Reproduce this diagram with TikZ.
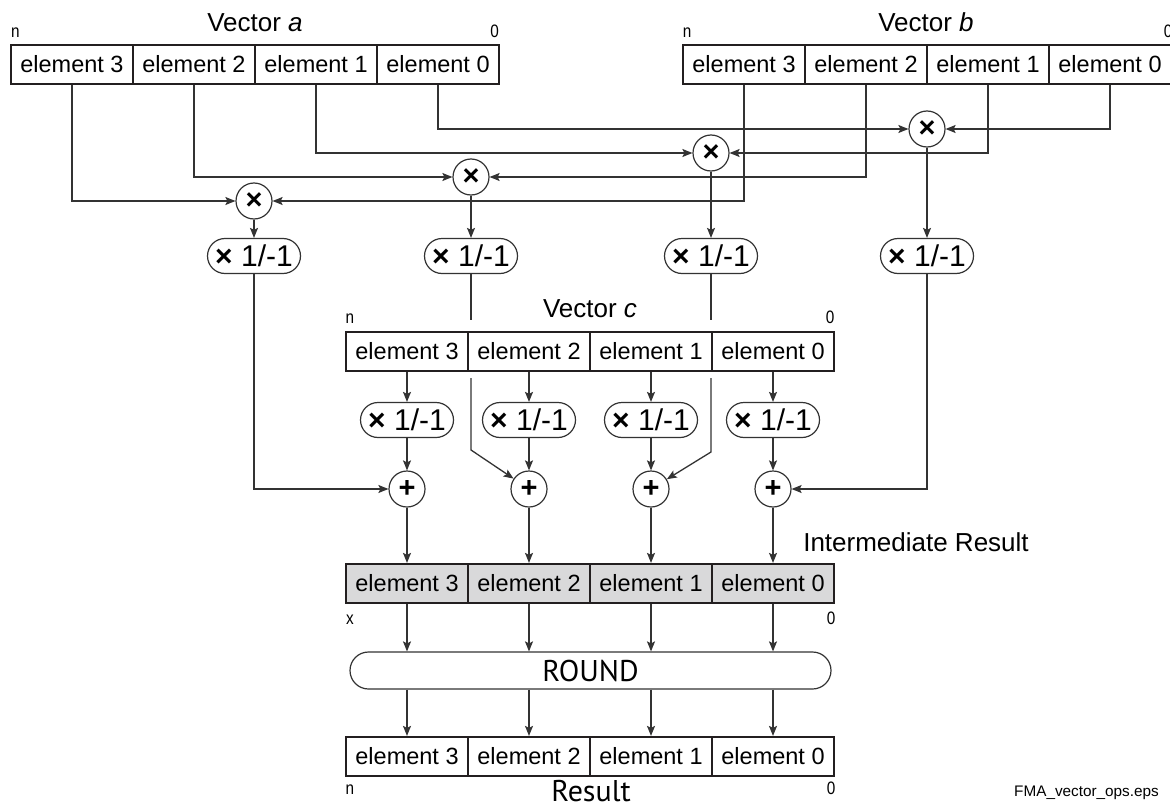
\documentclass[tikz,border=0pt]{standalone}
\usepackage{fontspec}
\setmainfont{Liberation Sans}
\newfontfamily\myriad{PT Sans}
\newfontfamily\narrowf[FakeStretch=0.85]{Liberation Sans}
\usetikzlibrary{arrows.meta}
\definecolor{linec}{HTML}{333333}
\definecolor{boxc}{HTML}{231F20}
\definecolor{grayf}{HTML}{D9D9DA}
\begin{document}
\begin{tikzpicture}[x=1pt,y=-1pt,
 cell/.style={draw=boxc, line width=2.2pt, minimum width=122pt, minimum height=39pt, inner sep=0pt, font=\fontsize{23.5}{26}\selectfont},
 gcell/.style={cell, fill=grayf},
 op/.style={circle, draw=linec, line width=1.2pt, minimum size=36pt, inner sep=0pt, font=\fontsize{29}{30}\selectfont\bfseries},
 sg/.style={draw=linec, line width=1.2pt, rounded corners=17.5pt, minimum width=93pt, minimum height=35pt, inner sep=0pt, font=\fontsize{30}{32}\selectfont},
 conn/.style={draw=linec, line width=1.3pt},
 arr/.style={conn, -{Stealth[length=10pt,width=8pt,inset=2pt]}},
 lbl/.style={font=\fontsize{26}{28}\selectfont, anchor=base, inner sep=0pt},
 idx/.style={font=\narrowf\fontsize{18}{20}\selectfont, anchor=base, inner sep=0pt},
]
\fill[white] (0,0) rectangle (1170,808);
\useasboundingbox (0,0) rectangle (1170,808);

% vectors a and b
\foreach \i/\x in {3/72,2/194,1/316,0/438} \node[cell] (a\i) at (\x,64.5) {element \i};
\foreach \i/\x in {3/744,2/866,1/988,0/1110} \node[cell] (b\i) at (\x,64.5) {element \i};
% vector c, sign nodes, adders, intermediate and result
\foreach \i/\x in {3/407,2/529,1/651,0/773} {
  \node[cell] (c\i) at (\x,351.5) {element \i};
  \node[sg] (u\i) at (\x,420) {{\bfseries ×} 1/-1};
  \node[op] (p\i) at (\x,489) {+};
  \node[gcell] (r\i) at (\x,583.5) {element \i};
  \node[cell] (s\i) at (\x,756.5) {element \i};
}
% multipliers
\node[op] (m0) at (927,129) {×};
\node[op] (m1) at (711,153) {×};
\node[op] (m2) at (471,177) {×};
\node[op] (m3) at (254,201) {×};
\foreach \i/\x in {0/927,1/711,2/471,3/254} \node[sg] (t\i) at (\x,256) {{\bfseries ×} 1/-1};

% round
\node[draw=linec, line width=1.2pt, rounded corners=18.5pt, minimum width=481pt, minimum height=37pt, inner sep=0pt, font=\myriad\fontsize{30}{32}\selectfont] (rnd) at (590.5,670.5) {ROUND};

% labels
\node[lbl] (va) at (255,32) {Vector \textit{a}};
\node[lbl] (vb) at (926,32) {Vector \textit{b}};
\node[lbl] (vc) at (590,317) {Vector \textit{c}};
\node[idx] (an) at (15.5,38) {n};
\node[idx] (az) at (494.5,38) {0};
\node[idx] (bn) at (687,38) {n};
\node[idx] (bz) at (1168,38) {0};
\node[idx] (cn) at (350,323) {n};
\node[idx] (cz) at (830,323) {0};
\node[idx] (rx) at (350,624) {x};
\node[idx] (rz) at (831,624) {0};
\node[idx] (sn) at (350,794) {n};
\node[idx] (sz) at (831,794) {0};
\node[lbl] (ir) at (916,551) {Intermediate Result};
\node[font=\myriad\fontsize{30}{32}\selectfont, anchor=base, inner sep=0pt] (res) at (591,801) {Result};
\node[font=\fontsize{15.3}{17}\selectfont, anchor=base west, inner sep=0pt] (fn) at (1014,796) {FMA\_vector\_ops.eps};

% coordinates for the interrupted lines
\coordinate (g2a) at (471,320);
\coordinate (g2b) at (471,378);
\coordinate (k2) at (471,450);
\coordinate (g1a) at (711,320);
\coordinate (g1b) at (711,378);
\coordinate (k1) at (711,452);

% connectors
\foreach \i in {0,...,3} {
  \draw[arr] (a\i.south) |- (m\i.west);
  \draw[arr] (b\i.south) |- (m\i.east);
  \draw[arr] (m\i) -- (t\i);
  \draw[arr] (c\i) -- (u\i);
  \draw[arr] (u\i) -- (p\i);
  \draw[arr] (p\i) -- (r\i);
  \draw[arr] (r\i.south) -- (r\i.south |- rnd.north);
  \draw[arr] (r\i.south |- rnd.south) -- (s\i.north);
}
\draw[arr] (t3.south) |- (p3.west);
\draw[arr] (t0.south) |- (p0.east);
\draw[conn] (t2.south) -- (g2a);
\draw[arr] (g2b) -- (k2) -- (p2);
\draw[conn] (t1.south) -- (g1a);
\draw[arr] (g1b) -- (k1) -- (p1);
\end{tikzpicture}
\end{document}
